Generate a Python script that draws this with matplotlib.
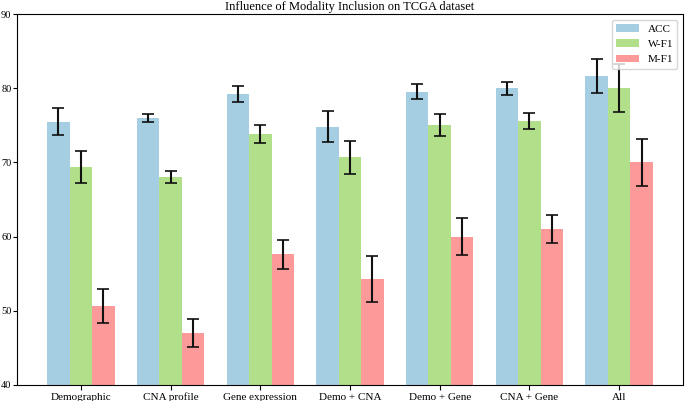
import numpy as np
import matplotlib
matplotlib.use("Agg")
import matplotlib.pyplot as plt

plt.rcParams['font.family'] = ['Liberation Serif', 'DejaVu Serif']

# data
categories = ['Demographic', 'CNA profile', 'Gene expression', 'Demo + CNA',
              'Demo + Gene', 'CNA + Gene', 'All']
acc = [75.5, 76.0, 79.2, 74.8, 79.5, 80.0, 81.6]
acc_err = [1.8, 0.5, 1.1, 2.1, 1.0, 0.9, 2.3]
wf1 = [69.4, 68.0, 73.8, 70.7, 75.0, 75.6, 80.0]
wf1_err = [2.2, 0.8, 1.2, 2.2, 1.5, 1.1, 3.2]
mf1 = [50.6, 47.0, 57.6, 54.3, 60.0, 61.0, 70.0]
mf1_err = [2.3, 1.9, 2.0, 3.1, 2.5, 1.9, 3.2]

series = [('ACC', acc, acc_err, '#a6cee3'),
          ('W-F1', wf1, wf1_err, '#b2df8a'),
          ('M-F1', mf1, mf1_err, '#fb9a99')]

fig = plt.figure(figsize=(6.85, 4.01), dpi=100)
ax = fig.add_axes([17 / 685, 16 / 401, 666 / 685, 371 / 401])

x = np.arange(len(categories))
w = 0.25
for i, (lbl, vals, errs, col) in enumerate(series):
    ax.bar(x + (i - 1) * w, vals, w, yerr=errs, color=col, label=lbl,
           capsize=4, error_kw={'elinewidth': 1.5, 'capthick': 1.2, 'ecolor': '#111111'})

ax.set_ylim(40, 90)
ax.set_xticks(x)
ax.set_xticklabels(categories, fontsize=8)
ax.tick_params(axis='x', labelsize=8, length=3.5, pad=2)
ax.tick_params(axis='y', labelsize=7.5, length=3, pad=1)
ax.set_title('Influence of Modality Inclusion on TCGA dataset', fontsize=9, pad=3)
ax.legend(loc='upper right', fontsize=8)

plt.savefig('out.png', dpi=100)
plt.close()
